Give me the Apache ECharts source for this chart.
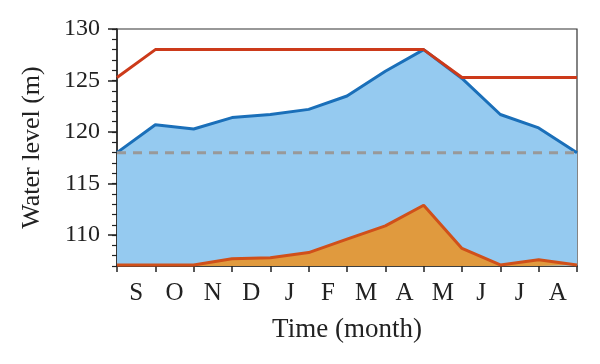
<!DOCTYPE html>
<html>
<head>
<meta charset="utf-8">
<script src="https://cdn.jsdelivr.net/npm/echarts@6/dist/echarts.min.js"></script>
<style>
  html, body { margin: 0; padding: 0; background: #fff; }
  #chart { width: 600px; height: 364px; }
</style>
</head>
<body>
<div id="chart"></div>
<script>
// Month categories (labels sit between the monthly boundary points)
const months = ['S', 'O', 'N', 'D', 'J', 'F', 'M', 'A', 'M', 'J', 'J', 'A'];
// Boundary positions 0..12
const pointIndex = [0, 1, 2, 3, 4, 5, 6, 7, 8, 9, 10, 11, 12];
// Water level (blue area)
const waterLevel = [118.0, 120.7, 120.3, 121.4, 121.7, 122.2, 123.5, 125.9, 128.0, 125.2, 121.7, 120.4, 118.0];
// Upper limit (red line)
const upperLimit = [125.3, 128.0, 128.0, 128.0, 128.0, 128.0, 128.0, 128.0, 128.0, 125.3, 125.3, 125.3, 125.3];
// Lower series (orange area)
const lowerLevel = [107.1, 107.1, 107.1, 107.7, 107.8, 108.3, 109.6, 110.9, 112.9, 108.7, 107.1, 107.6, 107.1];
// Dead water level (gray dashed)
const deadLevel = 118.0;
// Y tick labels
const yTickLabels = [110, 115, 120, 125, 130];
const yMin = 107, yMax = 130;

const pairs = arr => pointIndex.map((x, i) => [x, arr[i]]);

const fontFam = '"Liberation Serif", "Times New Roman", serif';
const chart = echarts.init(document.getElementById('chart'), null, { renderer: 'canvas' });

chart.setOption({
  animation: false,
  backgroundColor: '#ffffff',
  grid: {
    left: 117, right: 23, top: 29, bottom: 98,
    show: true, borderColor: '#333', borderWidth: 1.2, backgroundColor: 'transparent'
  },
  xAxis: [
    {
      type: 'category',
      data: months,
      boundaryGap: true,
      position: 'bottom',
      axisLine: { show: true, lineStyle: { color: '#222', width: 1.5 } },
      axisTick: { show: true, inside: false, length: 6, alignWithLabel: false, lineStyle: { color: '#222', width: 1.5 } },
      axisLabel: { color: '#222', fontFamily: fontFam, fontSize: 25, margin: 15 },
      splitLine: { show: false },
      name: 'Time (month)',
      nameLocation: 'middle',
      nameGap: 50,
      nameTextStyle: { color: '#222', fontFamily: fontFam, fontSize: 27 }
    },
    {
      type: 'value',
      min: 0, max: 12,
      show: false
    }
  ],
  yAxis: [
    {
      type: 'value',
      min: yMin, max: yMax,
      axisLine: { show: true, lineStyle: { color: '#222', width: 1.5 } },
      axisTick: { show: true, inside: false, length: 9, customValues: yTickLabels, lineStyle: { color: '#222', width: 1.5 } },
      axisLabel: { color: '#222', fontFamily: fontFam, fontSize: 24, margin: 17, customValues: yTickLabels },
      splitLine: { show: false },
      name: 'Water level (m)',
      nameLocation: 'middle',
      nameGap: 72,
      nameTextStyle: { color: '#222', fontFamily: fontFam, fontSize: 26 }
    },
    {
      type: 'value',
      min: yMin, max: yMax, interval: 1,
      position: 'left',
      axisLine: { show: false },
      axisTick: { show: true, inside: false, length: 5, lineStyle: { color: '#222', width: 1.2 } },
      axisLabel: { show: false },
      splitLine: { show: false }
    }
  ],
  series: [
    {
      type: 'line',
      xAxisIndex: 1, yAxisIndex: 0,
      data: pairs(waterLevel),
      symbol: 'none',
      lineStyle: { color: '#1a6fb9', width: 3 },
      areaStyle: { color: '#95caf0', opacity: 1, origin: 'start' },
      z: 2
    },
    {
      type: 'line',
      xAxisIndex: 1, yAxisIndex: 0,
      data: pairs(lowerLevel),
      symbol: 'none',
      lineStyle: { color: '#d0501a', width: 3 },
      areaStyle: { color: '#e09a3e', opacity: 1, origin: 'start' },
      z: 3
    },
    {
      type: 'line',
      xAxisIndex: 1, yAxisIndex: 0,
      data: pairs(pointIndex.map(() => deadLevel)),
      symbol: 'none',
      lineStyle: { color: '#999999', width: 3, type: [9, 7] },
      z: 4
    },
    {
      type: 'line',
      xAxisIndex: 1, yAxisIndex: 0,
      data: pairs(upperLimit),
      symbol: 'none',
      lineStyle: { color: '#cc3a1a', width: 3 },
      z: 5
    }
  ]
});
</script>
</body>
</html>
